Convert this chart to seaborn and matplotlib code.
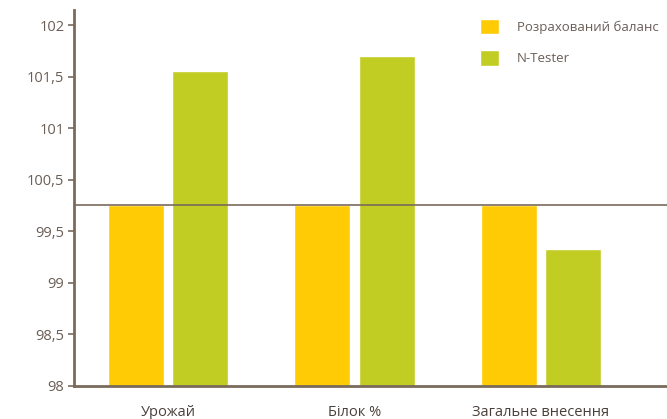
import numpy as np
import pandas as pd
import matplotlib
matplotlib.use("Agg")
import matplotlib.pyplot as plt
import seaborn as sns

# Data
categories = ["Урожай", "Білок %", "Загальне внесення"]
series_names = ["Розрахований баланс", "N-Tester"]
balance_values = [100.0, 100.0, 100.0]
tester_values = [101.55, 101.7, 99.33]
tick_values = [98, 98.5, 99, 99.5, 100.5, 101, 101.5, 102]
tick_labels = ["98", "98,5", "99", "99,5", "100,5", "101", "101,5", "102"]

df = pd.DataFrame({
    "category": categories * 2,
    "series": [series_names[0]] * 3 + [series_names[1]] * 3,
    "value": balance_values + tester_values,
})

sns.set_style("white")
plt.rcParams["font.family"] = ["Open Sans", "DejaVu Sans"]

axis_color = "#7a6a5c"
text_color = "#6a5e56"
palette = {series_names[0]: "#ffcb05", series_names[1]: "#c2cd23"}

fig = plt.figure(figsize=(6.67, 4.19), dpi=100)
ax = fig.add_axes([0.111, 0.079, 0.889, 0.897])

# the original axis skips 100: 99,5 -> 100,5 share one tick interval
src = [97, 98, 99.5, 100.5, 102, 103]
dst = [-2, 0, 3, 4, 7, 9]
ax.set_yscale("function", functions=(lambda v: np.interp(v, src, dst),
                                     lambda p: np.interp(p, dst, src)))

sns.barplot(data=df, x="category", y="value", hue="series", palette=palette,
            width=0.69, gap=0.13, ax=ax, saturation=1, errorbar=None)

ax.axhline(100, color=axis_color, linewidth=1.2, zorder=3)

ax.set_ylim(98, 102.145)
ax.set_xlim(-0.504, 2.676)
ax.set_yticks(tick_values)
ax.set_yticklabels(tick_labels)
ax.set_xlabel("")
ax.set_ylabel("")

for side in ["top", "right"]:
    ax.spines[side].set_visible(False)
for side in ["left", "bottom"]:
    ax.spines[side].set_color(axis_color)
    ax.spines[side].set_linewidth(2)

ax.tick_params(axis="y", left=True, length=4, width=1.2, color=axis_color,
               labelsize=10.5, labelcolor=text_color, pad=3)
ax.tick_params(axis="x", bottom=False, labelsize=10.5, labelcolor="#4a403a", pad=10)

ax.legend(loc="upper right", bbox_to_anchor=(1.0, 1.0), frameon=False,
          fontsize=9.5, labelcolor=text_color, handlelength=1.45, handleheight=1.45,
          handletextpad=1.35, labelspacing=1.2, borderaxespad=0.25)

fig.savefig("out.png", dpi=100)
